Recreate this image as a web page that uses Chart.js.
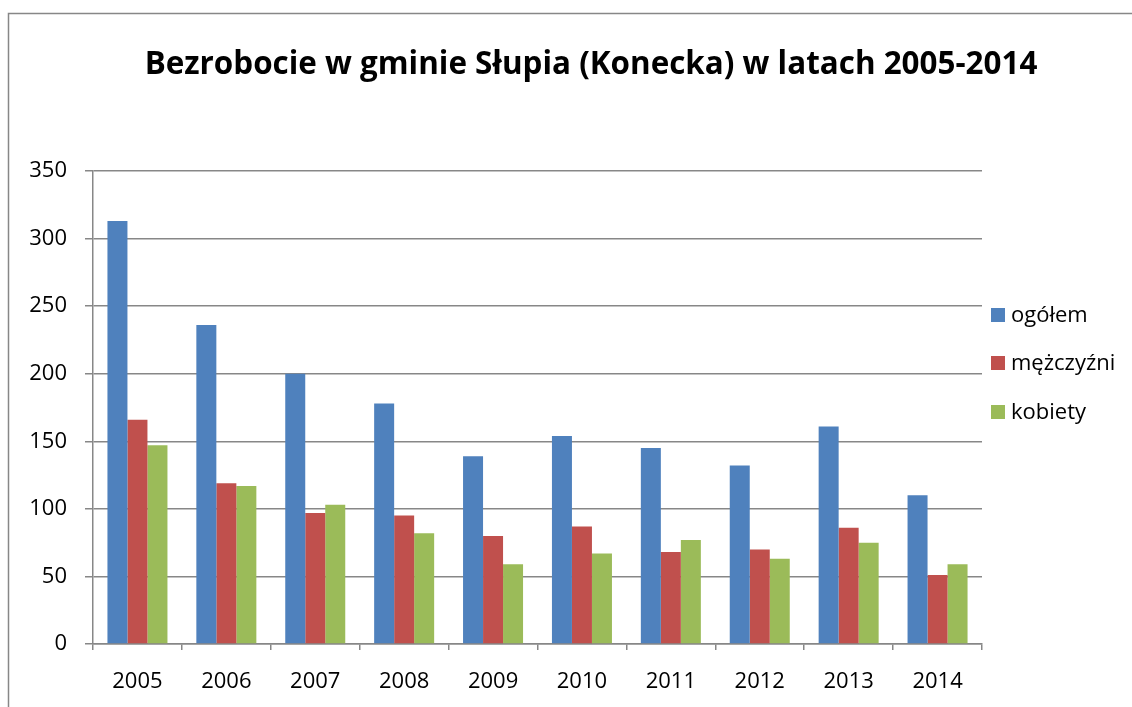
<!DOCTYPE html>
<html>
<head>
<meta charset="utf-8">
<script src="https://cdn.jsdelivr.net/npm/chart.js@4.4.1/dist/chart.umd.min.js"></script>
<style>
    html, body { margin: 0; padding: 0; background: #fff; }
    #wrap { width: 1132px; height: 707px; }
</style>
</head>
<body>
<div id="wrap"><canvas id="wykres"></canvas></div>
<script>
const lata = ['2005', '2006', '2007', '2008', '2009', '2010', '2011', '2012', '2013', '2014'];
const ogolem = [313, 236, 200, 178, 139, 154, 145, 132, 161, 110];
const mezczyzni = [166, 119, 97, 95, 80, 87, 68, 70, 86, 51];
const kobiety = [147, 117, 103, 82, 59, 67, 77, 63, 75, 59];
const tytul = 'Bezrobocie w gminie Słupia (Konecka) w latach 2005-2014';

const szary = '#878787';

// ramka, tytul i legenda rysowane recznie
const dodatki = {
    id: 'dodatki',
    beforeDraw(chart) {
        const ctx = chart.ctx;
        ctx.save();
        ctx.strokeStyle = szary;
        ctx.lineWidth = 1.5;
        ctx.strokeRect(8.5, 13.5, 2000, 2000);
        ctx.restore();
    },
    afterDraw(chart) {
        const ctx = chart.ctx;
        ctx.save();
        ctx.fillStyle = '#000';
        ctx.font = 'bold 31.4px "Open Sans"';
        ctx.textAlign = 'center';
        ctx.textBaseline = 'alphabetic';
        ctx.fillText(tytul, 591, 74);

        ctx.font = '22px "Open Sans"';
        ctx.textAlign = 'left';
        ctx.textBaseline = 'middle';
        const ys = [315, 363, 412];
        chart.data.datasets.forEach(function(ds, i){
            ctx.fillStyle = ds.backgroundColor;
            ctx.fillRect(991, ys[i] - 7, 14, 14);
            ctx.fillStyle = '#000';
            ctx.fillText(ds.label, 1011, ys[i] + 1);
        });
        ctx.restore();
    }
};

new Chart(document.getElementById('wykres'), {
    type: 'bar',
    data: {
        labels: lata,
        datasets: [
            { label: 'ogółem', data: ogolem, backgroundColor: '#4F81BD' },
            { label: 'mężczyźni', data: mezczyzni, backgroundColor: '#C0504D' },
            { label: 'kobiety', data: kobiety, backgroundColor: '#9BBB59' }
        ]
    },
    options: {
        responsive: true,
        maintainAspectRatio: false,
        animation: false,
        layout: { padding: { top: 171, right: 150, left: 0, bottom: 0 } },
        datasets: { bar: { categoryPercentage: 0.675, barPercentage: 1 } },
        plugins: {
            legend: { display: false },
            title: { display: false },
            tooltip: { enabled: false }
        },
        scales: {
            x: {
                afterFit: s => { s.height = 63; },
                grid: { drawOnChartArea: false, drawTicks: true, tickLength: 6, color: szary, lineWidth: 1.5 },
                border: { color: szary, width: 1.5 },
                ticks: { color: '#000', font: { family: 'Open Sans', size: 22 }, padding: 19, maxRotation: 0 }
            },
            y: {
                min: 0,
                max: 350,
                afterFit: s => { s.width = 93; },
                grid: { color: szary, lineWidth: 1.5, tickLength: 8 },
                border: { color: szary, width: 1.5 },
                ticks: { stepSize: 50, color: '#000', font: { family: 'Open Sans', size: 22 }, padding: 18 }
            }
        }
    },
    plugins: [dodatki]
});
</script>
</body>
</html>
